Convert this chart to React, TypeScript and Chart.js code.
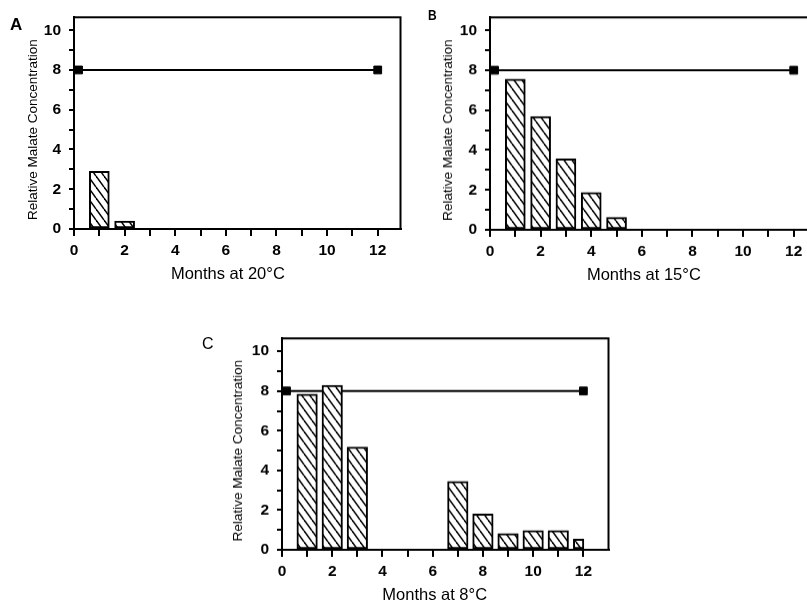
import React, { useEffect, useRef } from "react";
import { Chart, registerables } from "chart.js";

Chart.register(...registerables);

// ---- Data ----
const xTickValues = [0, 1, 2, 3, 4, 5, 6, 7, 8, 9, 10, 11, 12];
const yTickValues = [0, 1, 2, 3, 4, 5, 6, 7, 8, 9, 10];

const controlMonths = [0.18, 12];
const controlValues = [8, 8];

const monthsA = [1, 2];
const valuesA = [2.9, 0.4];

const monthsB = [1, 2, 3, 4, 5];
const valuesB = [7.55, 5.68, 3.55, 1.87, 0.62];

const monthsC = [1, 2, 3, 7, 8, 9, 10, 11];
const valuesC = [7.84, 8.29, 5.18, 3.44, 1.8, 0.82, 0.97, 0.97];
const monthsCLast = [11.81];
const valuesCLast = [0.54];

const yTitle = "Relative Malate Concentration";

type PanelCfg = {
  key: string;
  letter: string;
  xTitle: string;
  left: number;
  top: number;
  xMax: number;
  areaW: number;
  areaH: number;
  yTitleOffset: number;
  barSets: { months: number[]; values: number[]; thickness: number }[];
  letterStyle: React.CSSProperties;
};

const YW = 74;
const PAD_TOP = 12;
const PAD_R = 4;
const XH = 56;

const panels: PanelCfg[] = [
  {
    key: "A",
    letter: "A",
    xTitle: "Months at 20°C",
    left: 0,
    top: 0,
    xMax: 12.9,
    areaW: 329,
    areaH: 217,
    yTitleOffset: 36.7,
    barSets: [{ months: monthsA, values: valuesA, thickness: 20 }],
    letterStyle: { left: 10, top: 16, fontSize: 17, fontWeight: "bold" },
  },
  {
    key: "B",
    letter: "B",
    xTitle: "Months at 15°C",
    left: 416,
    top: 0,
    xMax: 12.9,
    areaW: 329,
    areaH: 217.5,
    yTitleOffset: 38.3,
    barSets: [{ months: monthsB, values: valuesB, thickness: 20 }],
    letterStyle: { left: 428, top: 7, fontSize: 15, fontWeight: "bold", transform: "scaleX(0.8)" },
  },
  {
    key: "C",
    letter: "C",
    xTitle: "Months at 8°C",
    left: 207.5,
    top: 321,
    xMax: 13,
    areaW: 329,
    areaH: 216.5,
    yTitleOffset: 40,
    barSets: [
      { months: monthsC, values: valuesC, thickness: 20.5 },
      { months: monthsCLast, values: valuesCLast, thickness: 10.5 },
    ],
    letterStyle: { left: 202, top: 336, fontSize: 16, fontWeight: "normal" },
  },
];

function makeHatch(): CanvasPattern | string {
  const w = 8;
  const h = 11;
  const c = document.createElement("canvas");
  c.width = w;
  c.height = h;
  const ctx = c.getContext("2d");
  if (!ctx) return "#fff";
  ctx.fillStyle = "#fff";
  ctx.fillRect(0, 0, w, h);
  ctx.strokeStyle = "#000";
  ctx.lineWidth = 1.5;
  for (let k = -1; k <= 1; k++) {
    ctx.beginPath();
    ctx.moveTo(k * w, 0);
    ctx.lineTo(k * w + w, h);
    ctx.stroke();
  }
  return ctx.createPattern(c, "repeat") || "#fff";
}

const framePlugin = {
  id: "frameAndTitles",
  afterDraw(chart: any) {
    const o = chart.options.plugins.frameAndTitles;
    const { ctx, chartArea } = chart;
    const xs = chart.scales.x;
    const ys = chart.scales.y;
    ctx.save();
    ctx.strokeStyle = "#000";
    ctx.lineWidth = 2;
    ctx.strokeRect(chartArea.left, chartArea.top, chartArea.right - chartArea.left, chartArea.bottom - chartArea.top);
    ctx.fillStyle = "#000";
    // x title
    ctx.font = "16.5px Arial, 'Liberation Sans', sans-serif";
    ctx.textAlign = "center";
    ctx.textBaseline = "alphabetic";
    ctx.fillText(o.xTitle, xs.getPixelForValue(6) + 2, chartArea.bottom + 50);
    // y title
    ctx.font = "13.5px Arial, 'Liberation Sans', sans-serif";
    ctx.translate(chartArea.left - o.yTitleOffset, ys.getPixelForValue(5));
    ctx.rotate(-Math.PI / 2);
    ctx.textAlign = "center";
    ctx.textBaseline = "alphabetic";
    ctx.fillText(yTitle, 0, 0);
    ctx.restore();
  },
};

function Panel({ cfg }: { cfg: PanelCfg }) {
  const ref = useRef<HTMLCanvasElement | null>(null);
  useEffect(() => {
    if (!ref.current) return;
    const hatch = makeHatch();
    const tickFont = { family: "Arial, 'Liberation Sans', sans-serif", size: 15.5, weight: "bold" as const };
    const barDatasets = cfg.barSets.map((s) => ({
      type: "bar" as const,
      data: s.months.map((m, i) => ({ x: m, y: s.values[i] })),
      backgroundColor: hatch as any,
      borderColor: "#000",
      borderWidth: 2,
      borderSkipped: false,
      barThickness: s.thickness,
      grouped: false,
      order: 0,
    }));
    const chart = new Chart(ref.current, {
      type: "bar",
      data: {
        datasets: [
          ...barDatasets,
          {
            type: "line" as const,
            data: controlMonths.map((m, i) => ({ x: m, y: controlValues[i] })),
            borderColor: "#000",
            borderWidth: 2,
            pointStyle: "rect",
            pointRadius: 5.5,
            pointBackgroundColor: "#000",
            pointBorderColor: "#000",
            pointBorderWidth: 1,
            order: 1,
          } as any,
        ],
      },
      options: {
        animation: false,
        responsive: false,
        events: [],
        layout: { padding: { top: PAD_TOP, right: PAD_R, left: 0, bottom: 0 } },
        plugins: {
          legend: { display: false },
          tooltip: { enabled: false },
          frameAndTitles: { xTitle: cfg.xTitle, yTitleOffset: cfg.yTitleOffset },
        } as any,
        scales: {
          x: {
            type: "linear",
            min: 0,
            max: cfg.xMax,
            offset: false,
            afterBuildTicks: (s: any) => {
              s.ticks = xTickValues.map((v) => ({ value: v }));
            },
            afterFit: (s: any) => {
              s.height = XH;
            },
            grid: {
              offset: false,
              drawOnChartArea: false,
              drawTicks: true,
              tickLength: 7,
              color: "#000",
              lineWidth: 2,
            },
            border: { display: true, color: "#000", width: 2 },
            ticks: {
              autoSkip: false,
              maxRotation: 0,
              padding: 5,
              color: "#000",
              font: tickFont,
              callback: (v: any) => (Number(v) % 2 === 0 ? String(v) : ""),
            },
          },
          y: {
            type: "linear",
            min: 0,
            max: 10.65,
            afterBuildTicks: (s: any) => {
              s.ticks = yTickValues.map((v) => ({ value: v }));
            },
            afterFit: (s: any) => {
              s.width = YW;
            },
            grid: {
              drawOnChartArea: false,
              drawTicks: true,
              tickLength: 5,
              color: "#000",
              lineWidth: 2,
            },
            border: { display: true, color: "#000", width: 2 },
            ticks: {
              autoSkip: false,
              padding: 8,
              color: "#000",
              font: tickFont,
              callback: (v: any) => (Number(v) % 2 === 0 ? String(v) : ""),
            },
          },
        },
      },
      plugins: [framePlugin],
    });
    return () => chart.destroy();
  }, [cfg]);
  const w = YW + cfg.areaW + PAD_R;
  const h = PAD_TOP + cfg.areaH + XH;
  return (
    <div style={{ position: "absolute", left: cfg.left, top: cfg.top, width: w, height: h }}>
      <canvas ref={ref} width={w} height={h} style={{ width: w, height: h, display: "block" }} />
    </div>
  );
}

export default function App() {
  return (
    <div
      style={{
        position: "fixed",
        left: 0,
        top: 0,
        width: 807,
        height: 602,
        overflow: "hidden",
        background: "#fff",
      }}
    >
      {panels.map((p) => (
        <Panel key={p.key} cfg={p} />
      ))}
      {panels.map((p) => (
        <div
          key={"L" + p.key}
          style={{
            position: "absolute",
            fontFamily: "Arial, 'Liberation Sans', sans-serif",
            lineHeight: 1,
            color: "#000",
            transformOrigin: "left top",
            ...p.letterStyle,
          }}
        >
          {p.letter}
        </div>
      ))}
    </div>
  );
}
